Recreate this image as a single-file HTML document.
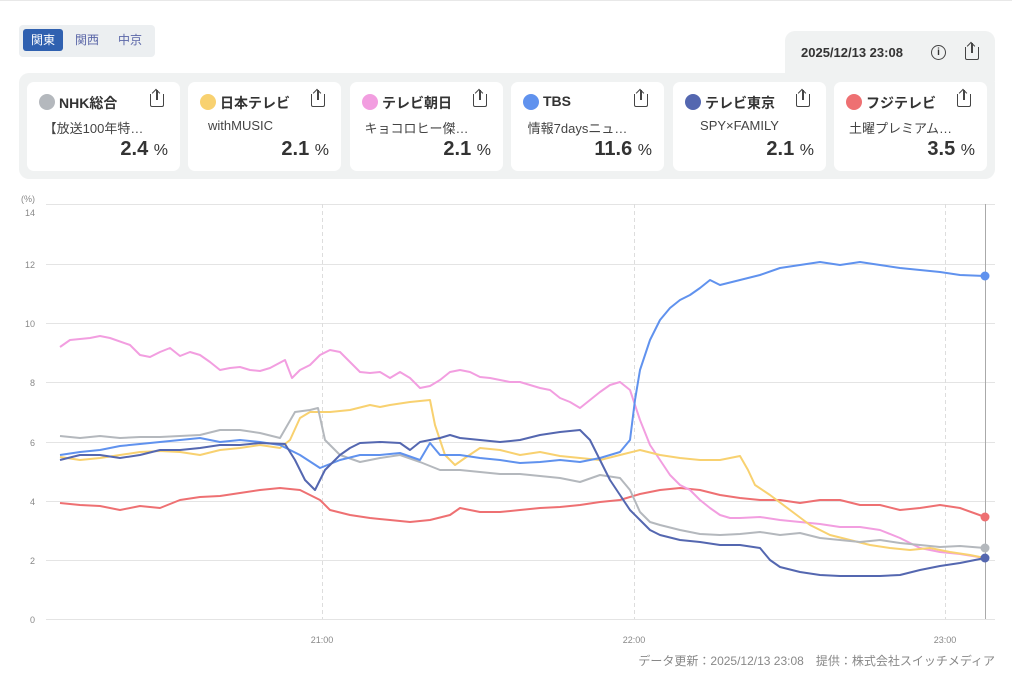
<!DOCTYPE html>
<html><head><meta charset="utf-8"><style>
body{margin:0;width:1012px;height:680px;background:#fff;font-family:"Liberation Sans","Noto Sans CJK JP",sans-serif;position:relative;overflow:hidden;color:#333}
.topline{position:absolute;left:0;top:0;width:1012px;height:1px;background:#e8e8e8}
.tabs{position:absolute;left:19px;top:25px;width:136px;height:32px;background:#eceff1;border-radius:4px}
.tab{position:absolute;top:4px;height:22px;line-height:22px;font-size:12px;color:#5a66a8;text-align:center;width:40px}
.tab.on{background:#3061b0;color:#fff;border-radius:3px;left:4px}
.panel{position:absolute;left:19px;top:73px;width:976px;height:106px;background:#f0f2f2;border-radius:10px}
.dt{position:absolute;left:785px;top:31px;width:210px;height:50px;background:#f0f2f2;border-radius:10px 10px 0 0}
.dt span{position:absolute;left:16px;top:14px;font-size:13px;font-weight:bold;color:#333}
.card{position:absolute;top:82px;width:153px;height:89px;background:#fff;border-radius:7px}
.dot{position:absolute;left:12px;top:12px;width:16px;height:16px;border-radius:50%}
.nm{position:absolute;left:32px;top:11px;font-size:14px;font-weight:bold;color:#333}
.sub{position:absolute;left:0;width:133px;top:36px;font-size:13px;color:#444;text-align:center}
.val{position:absolute;right:12px;top:56px;font-size:20px;font-weight:bold;color:#333}
.val small{font-size:16px;font-weight:normal}
.ic{position:absolute;right:16px;top:12px;width:12px;height:12px;border:1.5px solid #444;border-top:none;border-radius:0 0 2px 2px}
.ic:before{content:"";position:absolute;left:5px;top:-4px;width:1.5px;height:10px;background:#444}
.ic:after{content:"";position:absolute;left:2px;top:-4px;width:5px;height:5px;border-left:1.5px solid #444;border-top:1.5px solid #444;transform:rotate(45deg)}
.foot{position:absolute;right:17px;top:652px;font-size:12px;color:#888}
</style></head><body>
<div class="topline"></div>
<div class="tabs"><div class="tab on">関東</div><div class="tab" style="left:48px">関西</div><div class="tab" style="left:91px">中京</div></div>
<div class="dt"><span>2025/12/13 23:08</span>
<div style="position:absolute;left:146px;top:14px;width:13px;height:13px;border:1.5px solid #444;border-radius:50%;font-size:10px;text-align:center;line-height:13px;font-weight:bold">i</div>
<div class="ic" style="right:16px;top:16px"></div></div>
<div class="panel"></div>
<div class="card" style="left:27px"><div class="dot" style="background:#b4b8bd"></div><div class="nm">NHK総合</div><div class="ic"></div><div class="sub">【放送100年特…</div><div class="val">2.4 <small>%</small></div></div>
<div class="card" style="left:188px"><div class="dot" style="background:#f8d170"></div><div class="nm">日本テレビ</div><div class="ic"></div><div class="sub" style="text-align:left;left:20px">withMUSIC</div><div class="val">2.1 <small>%</small></div></div>
<div class="card" style="left:350px"><div class="dot" style="background:#f29ee0"></div><div class="nm">テレビ朝日</div><div class="ic"></div><div class="sub">キョコロヒー傑…</div><div class="val">2.1 <small>%</small></div></div>
<div class="card" style="left:511px"><div class="dot" style="background:#6092ee"></div><div class="nm">TBS</div><div class="ic"></div><div class="sub">情報7daysニュ…</div><div class="val">11.6 <small>%</small></div></div>
<div class="card" style="left:673px"><div class="dot" style="background:#5467b0"></div><div class="nm">テレビ東京</div><div class="ic"></div><div class="sub">SPY×FAMILY</div><div class="val">2.1 <small>%</small></div></div>
<div class="card" style="left:834px"><div class="dot" style="background:#ee7072"></div><div class="nm">フジテレビ</div><div class="ic"></div><div class="sub">土曜プレミアム…</div><div class="val">3.5 <small>%</small></div></div>

<svg width="1012" height="680" style="position:absolute;left:0;top:0" font-family="Liberation Sans, sans-serif">
<g stroke="#e4e4e4" stroke-width="1">
<line x1="46" x2="995" y1="204.5" y2="204.5"/><line x1="46" x2="995" y1="264.5" y2="264.5"/><line x1="46" x2="995" y1="323.5" y2="323.5"/><line x1="46" x2="995" y1="382.5" y2="382.5"/><line x1="46" x2="995" y1="442.5" y2="442.5"/><line x1="46" x2="995" y1="501.5" y2="501.5"/><line x1="46" x2="995" y1="560.5" y2="560.5"/><line x1="46" x2="995" y1="619.5" y2="619.5"/>
</g>
<g stroke="#ddd" stroke-dasharray="4,3"><line x1="322.5" x2="322.5" y1="204" y2="619"/><line x1="634.5" x2="634.5" y1="204" y2="619"/><line x1="945.5" x2="945.5" y1="204" y2="619"/></g>
<line x1="985.5" x2="985.5" y1="204" y2="619" stroke="#aaa"/>
<g font-size="9" fill="#888" text-anchor="end">
<text x="35" y="202">(%)</text><text x="35" y="216">14</text><text x="35" y="268">12</text><text x="35" y="327">10</text><text x="35" y="386">8</text><text x="35" y="446">6</text><text x="35" y="505">4</text><text x="35" y="564">2</text><text x="35" y="623">0</text></g>
<g font-size="9" fill="#888" text-anchor="middle"><text x="322" y="643">21:00</text><text x="634" y="643">22:00</text><text x="945" y="643">23:00</text></g>
<g fill="none" stroke-width="2" stroke-linejoin="round">
<polyline stroke="#ee7072" points="60,503 80,505 100,506 120,510 140,506 160,508 180,500 200,497 220,496 240,493 260,490 280,488 300,490 320,500 330,510 350,515 370,518 390,520 410,522 430,520 450,515 460,508 480,512 500,512 520,510 540,508 560,507 580,505 600,502 620,500 640,494 660,490 680,488 700,490 720,495 740,498 760,500 780,500 800,503 820,500 840,500 860,505 880,505 900,510 920,508 940,505 960,508 985,517"/>
<polyline stroke="#f29ee0" points="60,347 70,340 90,338 100,336 110,338 130,345 140,355 150,357 160,352 170,348 180,356 190,352 200,355 210,362 220,370 230,368 240,367 250,370 260,371 270,368 285,360 292,378 300,370 310,365 320,355 330,350 340,352 350,362 360,372 370,373 380,372 390,378 400,372 410,378 420,388 430,386 440,380 450,372 460,370 470,372 480,377 490,378 500,380 510,382 520,382 530,385 540,388 550,390 560,398 570,402 580,408 590,400 600,392 610,385 620,382 630,390 640,420 650,445 660,460 670,475 680,485 690,490 700,500 710,508 720,515 730,518 740,518 760,517 780,520 800,522 820,524 840,527 860,527 880,530 900,538 920,548 940,552 960,554 985,558"/>
<polyline stroke="#f8d170" points="60,457 80,460 100,458 120,455 140,452 160,451 180,452 200,455 220,450 240,448 260,445 280,448 290,440 300,418 310,412 330,412 350,410 370,405 380,407 390,405 410,402 430,400 435,425 445,455 455,465 465,458 480,448 500,450 520,455 540,452 560,456 580,458 600,460 620,455 640,450 660,455 680,458 700,460 720,460 740,456 748,470 755,485 770,495 790,510 810,525 830,535 850,540 870,545 890,548 910,550 930,548 950,552 970,555 985,558"/>
<polyline stroke="#b4b8bd" points="60,436 80,438 100,436 120,438 140,437 160,437 180,436 200,435 220,430 240,430 260,433 280,438 295,412 310,410 318,408 325,440 340,455 360,462 380,458 400,455 420,462 440,470 460,470 480,472 500,474 520,474 540,476 560,478 580,482 600,475 620,478 630,490 640,512 650,522 660,525 680,530 700,534 720,535 740,534 760,532 780,535 800,533 820,538 840,540 860,542 880,540 900,543 920,545 940,547 960,546 985,548"/>
<polyline stroke="#6092ee" points="60,455 80,452 100,450 120,446 140,444 160,442 180,440 200,438 220,442 240,440 260,442 280,445 300,455 320,468 340,460 360,455 380,455 400,453 420,460 430,443 440,455 460,455 480,458 500,460 520,463 540,462 560,460 580,462 600,458 620,452 630,440 635,400 640,370 650,340 660,320 670,308 680,300 690,295 700,288 710,280 720,285 740,280 760,275 780,268 800,265 820,262 840,265 860,262 880,265 900,268 920,270 940,272 960,275 985,276"/>
<polyline stroke="#5467b0" points="60,460 80,455 100,455 120,458 140,455 160,450 180,450 200,448 220,445 240,445 260,443 285,444 295,460 305,480 315,490 325,470 340,455 350,448 360,443 380,442 400,443 410,450 420,442 440,438 450,435 460,438 480,440 500,442 520,440 540,435 560,432 580,430 590,440 600,460 610,480 620,495 630,510 640,520 650,530 660,535 680,540 700,542 720,545 740,545 760,548 770,560 780,567 800,572 820,575 840,576 860,576 880,576 900,575 920,570 940,566 960,563 985,558"/>
</g>
<circle cx="985" cy="276" r="4.5" fill="#6092ee"/><circle cx="985" cy="517" r="4.5" fill="#ee7072"/><circle cx="985" cy="548" r="4.5" fill="#b4b8bd"/><circle cx="985" cy="558" r="4.5" fill="#5467b0"/>
</svg>
<div class="foot">データ更新：2025/12/13 23:08　提供：株式会社スイッチメディア</div>
</body></html>
